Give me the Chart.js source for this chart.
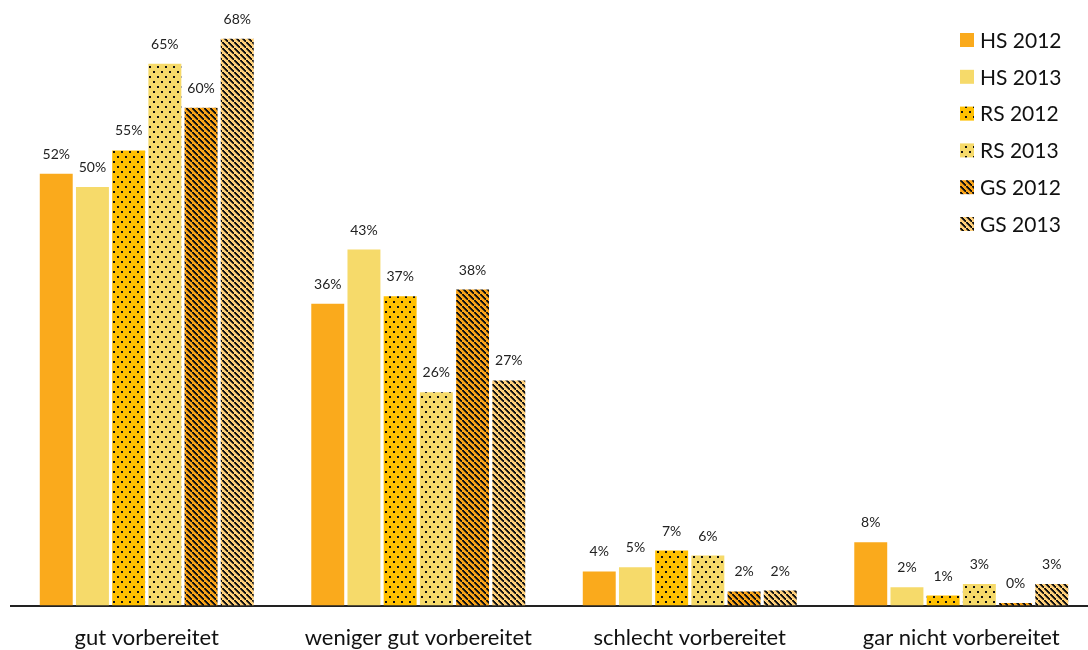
<!DOCTYPE html>
<html>
<head>
<meta charset="utf-8">
<script src="https://cdn.jsdelivr.net/npm/chart.js@4.4.0/dist/chart.umd.min.js"></script>
<style>
  html, body { margin: 0; padding: 0; background: #fff; overflow: hidden; }
  #wrap { width: 1097px; height: 662px; position: relative; }
</style>
</head>
<body>
<div id="wrap"><canvas id="chart"></canvas></div>
<script>
// categories and series (values in %)
const categories = ["gut vorbereitet", "weniger gut vorbereitet", "schlecht vorbereitet", "gar nicht vorbereitet"];
const seriesNames = ["HS 2012", "HS 2013", "RS 2012", "RS 2013", "GS 2012", "GS 2013"];
const hs2012 = [51.8, 36.2, 4.1, 7.6];
const hs2013 = [50.2, 42.7, 4.6, 2.2];
const rs2012 = [54.6, 37.1, 6.6, 1.2];
const rs2013 = [65.0, 25.6, 6.0, 2.6];
const gs2012 = [59.7, 37.9, 1.7, 0.3];
const gs2013 = [68.0, 27.0, 1.8, 2.6];

const FONT = "Lato, 'Open Sans', sans-serif";

function makePattern(bg, type) {
  const c = document.createElement("canvas");
  const w = type === "dots" ? 8 : 6;
  const h = type === "dots" ? 10 : 6;
  c.width = w; c.height = h;
  const g = c.getContext("2d");
  g.fillStyle = bg;
  g.fillRect(0, 0, w, h);
  g.fillStyle = "#111";
  if (type === "dots") {
    g.fillRect(1, 1, 2, 2);
    g.fillRect(5, 6, 2, 2);
  } else if (type === "stripes") {
    for (let i = 0; i < w; i++) {
      g.fillRect(i, i, 2, 1.6);
    }
  }
  return g.createPattern(c, "repeat");
}

const fills = [
  "#FAAA1C",
  "#F6DA6A",
  makePattern("#FFC000", "dots"),
  makePattern("#F6DA6A", "dots"),
  makePattern("#FAA419", "stripes"),
  makePattern("#FFD07A", "stripes")
];
const values = [hs2012, hs2013, rs2012, rs2013, gs2012, gs2013];

const labelPlugin = {
  id: "barLabels",
  afterDatasetsDraw(chart) {
    const ctx = chart.ctx;
    ctx.save();
    ctx.font = "14px " + FONT;
    ctx.fillStyle = "#222";
    ctx.textAlign = "center";
    ctx.textBaseline = "alphabetic";
    chart.data.datasets.forEach((ds, i) => {
      chart.getDatasetMeta(i).data.forEach((bar, j) => {
        ctx.fillText(Math.round(ds.data[j]) + "%", bar.x, bar.y - 15);
      });
    });
    ctx.restore();
  }
};

const legendPlugin = {
  id: "sideLegend",
  afterDraw(chart) {
    const ctx = chart.ctx;
    ctx.save();
    ctx.font = "21px " + FONT;
    ctx.textBaseline = "middle";
    chart.data.datasets.forEach((ds, i) => {
      const y = 40 + i * 36.8;
      ctx.fillStyle = ds.backgroundColor;
      ctx.fillRect(960, y - 7, 14, 14);
      ctx.fillStyle = "#111";
      ctx.fillText(ds.label, 980, y + 1);
    });
    ctx.restore();
  }
};

new Chart(document.getElementById("chart"), {
  type: "bar",
  data: {
    labels: categories,
    datasets: seriesNames.map((name, i) => ({
      label: name,
      data: values[i],
      backgroundColor: fills[i],
      borderWidth: 0
    }))
  },
  options: {
    responsive: true,
    maintainAspectRatio: false,
    animation: false,
    categoryPercentage: 0.8,
    barPercentage: 0.91,
    layout: { padding: { left: 11, right: 0, top: 22, bottom: 0 } },
    plugins: { legend: { display: false }, tooltip: { enabled: false } },
    scales: {
      x: {
        grid: { display: false },
        border: { display: true, color: "#222", width: 2 },
        ticks: { color: "#111", font: { family: FONT, size: 22 }, padding: 11 }
      },
      y: {
        display: false,
        min: 0,
        max: 70
      }
    }
  },
  plugins: [labelPlugin, legendPlugin]
});
</script>
</body>
</html>
